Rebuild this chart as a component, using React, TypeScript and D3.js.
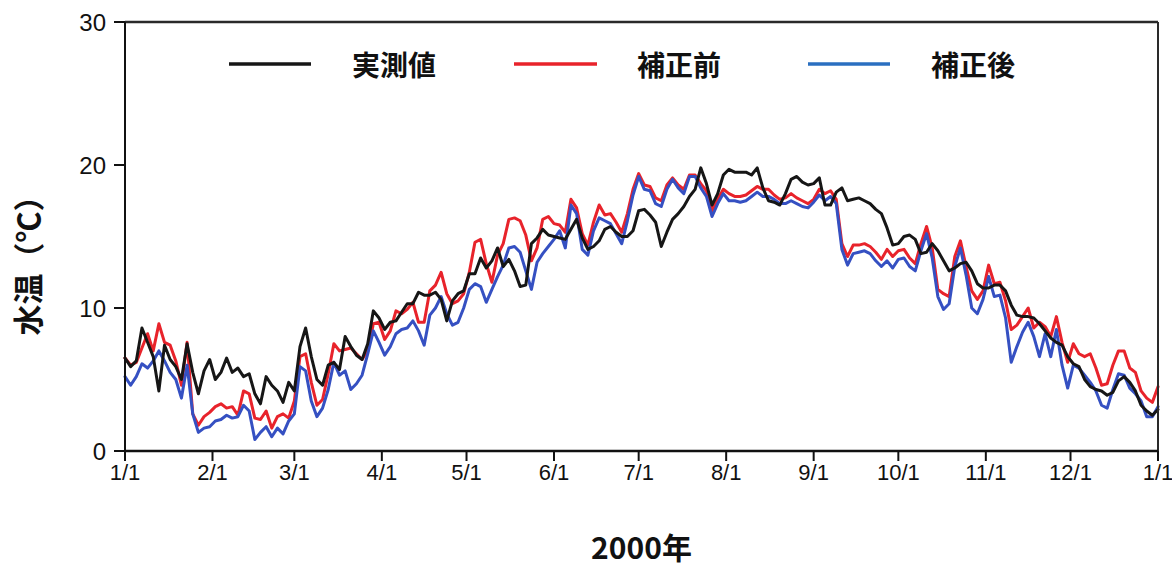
import React from "react";
import * as d3 from "d3";

// Day-of-year grid (every 2 days, 2000-01-01 = day 0, 2001-01-01 = day 366)
const sampleDays: number[] = d3.range(0, 367, 2);

// Month start positions (day index) and their labels
const monthStartDays = [0, 31, 60, 91, 121, 152, 182, 213, 244, 274, 305, 335, 366];
const monthLabels = ["1/1", "2/1", "3/1", "4/1", "5/1", "6/1", "7/1", "8/1", "9/1", "10/1", "11/1", "12/1", "1/1"];
const yTicks = [0, 10, 20, 30];

const seriesNames = ["実測値", "補正前", "補正後"];

// 実測値 (observed)
const observed = [
  6.5, 5.9, 6.3, 8.6, 7.6, 6.6, 4.2, 7.4, 6.4, 5.9,
  5.0, 7.5, 5.5, 4.0, 5.6, 6.4, 5.0, 5.5, 6.5, 5.5,
  5.8, 5.2, 5.4, 4.0, 3.3, 5.2, 4.6, 4.2, 3.4, 4.8,
  4.2, 7.3, 8.6, 6.6, 5.0, 4.6, 6.0, 6.2, 5.7, 8.0,
  7.3, 6.7, 6.4, 7.5, 9.8, 9.3, 8.5, 9.0, 9.1, 9.7,
  10.3, 10.3, 11.1, 10.9, 10.9, 11.1, 10.6, 9.1, 10.5, 11.0,
  11.2, 12.4, 12.4, 13.5, 12.8, 13.3, 14.2, 12.9, 13.4, 12.6,
  11.5, 11.6, 14.5, 14.9, 15.5, 15.1, 15.0, 14.9, 14.8, 15.5,
  16.2, 14.9, 14.1, 14.3, 14.7, 15.5, 15.7, 15.3, 15.0, 15.0,
  15.4, 16.8, 16.9, 16.5, 16.0, 14.3, 15.3, 16.2, 16.6, 17.1,
  17.8, 18.3, 19.8, 18.7, 17.2, 18.0, 19.3, 19.7, 19.5, 19.5,
  19.5, 19.3, 19.8, 18.4, 17.5, 17.4, 17.2, 18.0, 19.0, 19.2,
  18.8, 18.6, 18.7, 19.1, 17.2, 17.2, 18.1, 18.4, 17.5, 17.6,
  17.7, 17.5, 17.3, 16.9, 16.6, 15.6, 14.4, 14.5, 15.0, 15.1,
  14.8, 13.8, 13.9, 14.5, 14.0, 13.3, 12.6, 12.8, 13.1, 13.2,
  12.6, 11.7, 11.4, 11.4, 11.6, 11.6, 11.2, 10.2, 9.5, 9.4,
  9.4, 9.3, 8.9, 8.4, 7.9, 7.6, 7.4, 6.6, 6.1, 5.9,
  5.0, 4.5, 4.3, 4.2, 3.9, 4.1, 4.9, 5.2, 4.8, 4.2,
  3.2, 2.8, 2.5, 2.9,
];

// 補正前 (before correction)
const beforeCorr = [
  6.5, 6.0, 6.2, 7.2, 8.2, 7.0, 8.9, 7.6, 7.4, 6.3,
  4.6, 7.6, 2.6, 1.8, 2.4, 2.7, 3.1, 3.3, 3.0, 3.1,
  2.5, 4.2, 4.0, 2.3, 2.2, 2.8, 1.6, 2.4, 2.6, 2.3,
  3.5, 6.6, 6.8, 4.8, 3.2, 3.6, 5.4, 7.5, 7.0, 7.1,
  7.2, 6.8, 6.4, 7.0, 8.9, 9.0, 7.8, 8.4, 9.8, 9.6,
  9.9, 10.4, 9.0, 9.0, 11.2, 11.6, 12.5, 11.0, 10.3, 10.5,
  11.0, 12.5, 14.6, 14.8, 13.1, 11.8, 13.7, 14.5, 16.2, 16.3,
  16.1, 15.1, 13.3, 14.2, 16.2, 16.4, 15.9, 15.8, 15.3, 17.6,
  17.0, 15.2, 14.4, 16.0, 17.2, 16.5, 16.6, 16.0, 15.3, 16.6,
  18.3, 19.4, 18.6, 18.5, 17.7, 17.5, 18.6, 19.1, 18.6, 18.3,
  19.3, 19.3, 18.7, 18.2, 16.8, 17.6, 18.3, 18.0, 17.8, 17.8,
  17.9, 18.2, 18.5, 18.3, 18.3, 17.9, 17.6, 17.7, 18.0, 17.7,
  17.5, 17.3, 17.6, 18.3, 18.0, 18.2, 17.6, 14.5, 13.6, 14.4,
  14.4, 14.5, 14.3, 13.9, 13.4, 14.1, 13.6, 14.0, 14.1, 13.5,
  13.1, 14.5, 15.7, 14.2, 11.3, 11.0, 10.8, 13.6, 14.7, 12.9,
  11.2, 10.6, 11.2, 13.0, 11.7, 11.8, 10.5, 8.5, 8.8, 9.4,
  10.0, 8.6, 9.0, 8.7, 8.0, 9.4, 7.6, 6.2, 7.5, 6.8,
  6.6, 6.8, 5.8, 4.6, 4.7, 6.0, 7.0, 7.0, 5.8, 5.5,
  4.2, 3.7, 3.4, 4.5,
];

// 補正後 (after correction)
const afterCorr = [
  5.2, 4.6, 5.2, 6.1, 5.8, 6.3, 7.0, 6.3, 5.5, 5.0,
  3.7, 6.0, 2.6, 1.3, 1.6, 1.7, 2.1, 2.2, 2.5, 2.3,
  2.4, 3.2, 2.8, 0.8, 1.3, 1.7, 1.0, 1.6, 1.2, 2.1,
  2.6, 5.9, 5.6, 3.5, 2.4, 3.0, 4.3, 6.2, 5.3, 5.6,
  4.3, 4.7, 5.3, 6.8, 8.4, 7.6, 6.7, 7.3, 8.2, 8.5,
  8.6, 9.1, 8.4, 7.4, 9.5, 10.0, 10.8, 9.6, 8.8, 9.0,
  10.0, 11.3, 11.7, 11.5, 10.4, 11.3, 12.2, 13.0, 14.2, 14.3,
  13.9, 12.6, 11.3, 13.2, 13.8, 14.3, 14.8, 15.4, 14.2, 17.2,
  16.6, 14.1, 13.7, 15.4, 16.3, 16.1, 15.9, 15.2, 14.5, 16.1,
  17.9, 19.2, 18.3, 18.2, 17.3, 17.1, 18.3, 19.0, 18.4, 18.0,
  19.2, 19.2, 18.4, 17.8, 16.4, 17.3, 18.0, 17.5, 17.5, 17.4,
  17.5, 17.8, 18.1, 17.8, 17.8, 17.6, 17.3, 17.3, 17.5, 17.3,
  17.1, 17.0, 17.4, 17.9, 17.5, 17.8, 17.3, 14.1, 13.0, 13.8,
  13.9, 14.0, 13.8, 13.3, 12.9, 13.3, 12.8, 13.4, 13.5, 12.9,
  12.6, 14.0, 15.2, 13.5, 10.8, 9.9, 10.3, 12.9, 14.2, 12.3,
  10.0, 9.6, 10.6, 12.2, 10.8, 10.9, 9.3, 6.2, 7.3, 8.3,
  9.0, 8.0, 6.6, 8.2, 6.6, 8.5, 6.0, 4.4, 6.0, 5.8,
  5.3, 4.8, 4.2, 3.2, 3.0, 4.3, 5.4, 5.3, 4.4, 4.0,
  3.5, 2.4, 2.4, 3.1,
];

const W = 1172;
const H = 568;
const left = 125;
const right = 1158;
const top = 22;
const bottom = 451;

const lineColors = ["#161616", "#e8232b", "#3550c2"];
const legendColors = ["#161616", "#e8232b", "#2a6fc0"];

export default function App() {
  const x = d3.scaleLinear().domain([0, 366]).range([left, right]);
  const y = d3.scaleLinear().domain([0, 30]).range([bottom, top]);

  const line = d3
    .line<number>()
    .x((_, i) => x(sampleDays[i]))
    .y((v) => y(v));

  const series = [observed, beforeCorr, afterCorr];
  const drawOrder = [1, 2, 0];

  const tickFont = "'Liberation Sans', Arial, sans-serif";
  const cjkFont = "'Noto Sans CJK JP', 'Noto Sans CJK SC', sans-serif";

  const legendItems = [
    { x1: 229, x2: 311, tx: 352 },
    { x1: 514, x2: 597, tx: 637 },
    { x1: 808, x2: 890, tx: 931 },
  ];

  return (
    <svg
      width={W}
      height={H}
      viewBox={`0 0 ${W} ${H}`}
      style={{ position: "absolute", left: 0, top: 0, background: "#fff" }}
    >
      <rect x={0} y={0} width={W} height={H} fill="#fff" />

      {/* series */}
      {drawOrder.map((si) => (
        <path
          key={si}
          d={line(series[si]) || ""}
          fill="none"
          stroke={lineColors[si]}
          strokeWidth={3}
          strokeLinejoin="round"
          strokeLinecap="round"
        />
      ))}

      {/* frame top/right */}
      <line x1={left} x2={right} y1={top} y2={top} stroke="#2a2a2a" strokeWidth={2.5} />
      <line x1={right} x2={right} y1={top} y2={bottom} stroke="#2a2a2a" strokeWidth={2} />

      {/* y axis */}
      <line x1={left} x2={left} y1={top} y2={bottom} stroke="#111" strokeWidth={2} />
      {yTicks.map((t) => (
        <g key={t}>
          <line x1={left - 11} x2={left} y1={y(t)} y2={y(t)} stroke="#111" strokeWidth={2} />
          <text
            x={left - 19}
            y={y(t)}
            textAnchor="end"
            dominantBaseline="central"
            fontFamily={tickFont}
            fontSize={24}
            fill="#111"
          >
            {t}
          </text>
        </g>
      ))}

      {/* x axis */}
      <line x1={left} x2={right} y1={bottom} y2={bottom} stroke="#111" strokeWidth={2.5} />
      {monthStartDays.map((d, i) => (
        <g key={i}>
          <line x1={x(d)} x2={x(d)} y1={bottom} y2={bottom + 10} stroke="#111" strokeWidth={2} />
          <text
            x={x(d)}
            y={bottom + 21}
            textAnchor="middle"
            dominantBaseline="central"
            fontFamily={tickFont}
            fontSize={22}
            fill="#111"
          >
            {monthLabels[i]}
          </text>
        </g>
      ))}

      {/* axis titles */}
      <text
        x={(left + right) / 2}
        y={546}
        textAnchor="middle"
        dominantBaseline="central"
        fontFamily={cjkFont}
        fontWeight="bold"
        fontSize={30}
        fill="#111"
      >
        2000年
      </text>
      <text
        transform={`translate(26,258) rotate(-90)`}
        textAnchor="middle"
        dominantBaseline="central"
        fontFamily={cjkFont}
        fontWeight="bold"
        fontSize={31}
        fill="#111"
      >
        水温（℃）
      </text>

      {/* legend */}
      {legendItems.map((it, i) => (
        <g key={i}>
          <line x1={it.x1} x2={it.x2} y1={64} y2={64} stroke={legendColors[i]} strokeWidth={3.5} />
          <text
            x={it.tx}
            y={64}
            dominantBaseline="central"
            fontFamily={cjkFont}
            fontWeight="bold"
            fontSize={28}
            fill="#111"
          >
            {seriesNames[i]}
          </text>
        </g>
      ))}
    </svg>
  );
}
